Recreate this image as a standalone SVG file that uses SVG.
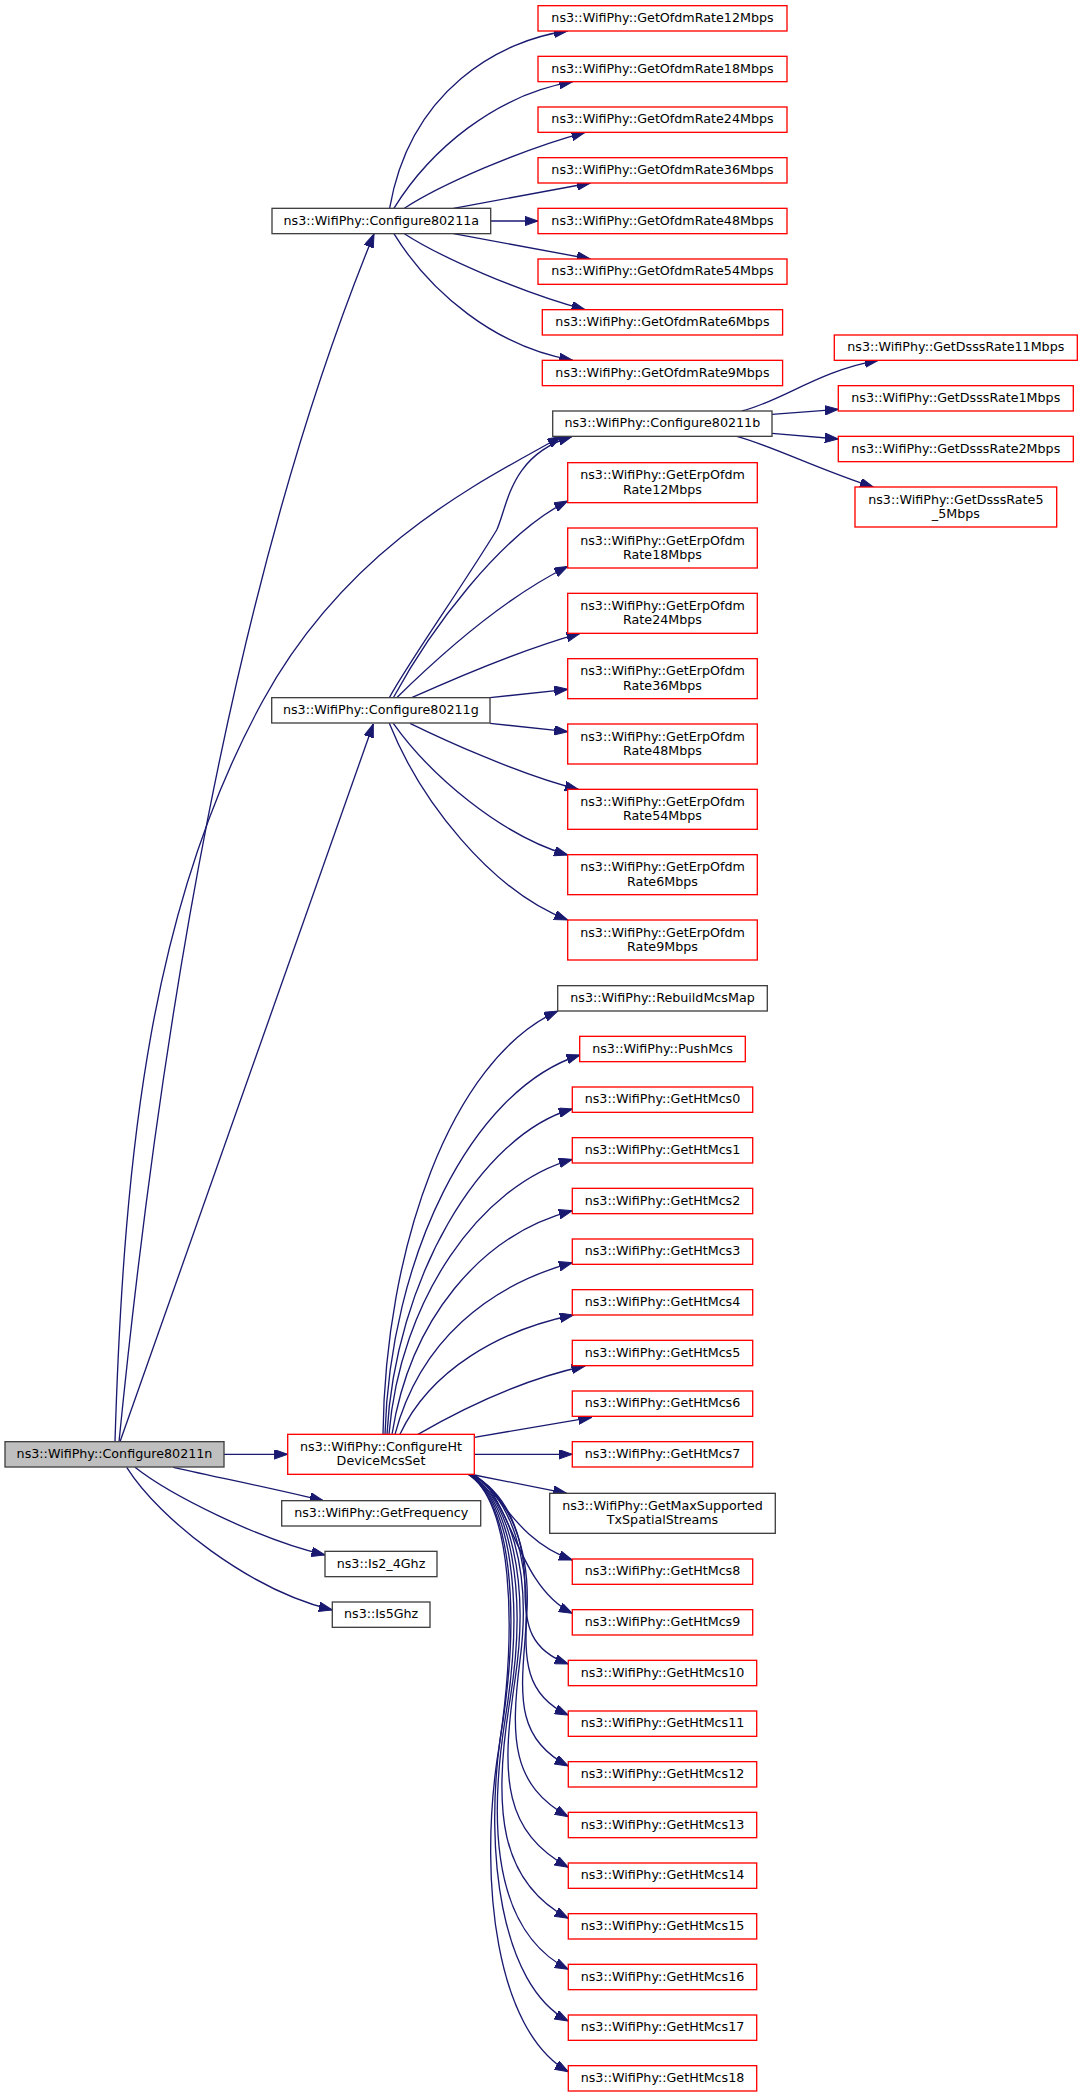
<svg xmlns="http://www.w3.org/2000/svg" width="1083" height="2097" viewBox="0 0 1083 2097">
<style>
rect{fill:#ffffff;stroke-width:1.33}
.r{stroke:#ff0000}
.k{stroke:#404040}
.root{fill:#bfbfbf}
text{font-family:"DejaVu Sans","Liberation Sans",sans-serif;font-size:12.7px;text-anchor:middle;fill:#000000}
#edges path{fill:none;stroke:#191970;stroke-width:1.33;marker-end:url(#ah)}
</style>
<defs>
<marker id="ah" markerUnits="userSpaceOnUse" markerWidth="14" markerHeight="10" refX="13.5" refY="4.8" orient="auto">
<path d="M0,0 L13.5,4.8 L0,9.6 z" fill="#191970" stroke="#191970" stroke-width="1"/>
</marker>
</defs>
<rect x="0" y="0" width="1083" height="2097" style="fill:#ffffff;stroke:none"/>
<g id="edges">
<path d="M119,1441.7 C159,1041.7 230.5,584 374,234"/>
<path d="M115,1441.7 C124,1141.7 153.3,900 263.3,700 C351.3,540 491.8,476.5 561,436.5"/>
<path d="M120,1441.7 L373.3,724"/>
<path d="M224,1454.3 L287.7,1454.3"/>
<path d="M173.3,1467.3 C230,1480 280,1490 323.3,1500.7"/>
<path d="M135,1467.3 C170,1495 260,1540 325,1555"/>
<path d="M126.7,1467.3 C160,1520 250,1590 332.3,1610"/>
<path d="M389.6,208.3 C410,90 500,40 567.5,31"/>
<path d="M393.9,208.3 C430,150 495,95 572.8,81.7"/>
<path d="M404.4,208.3 C440,185 520,150 585,132.3"/>
<path d="M453.5,208.3 L590.4,183"/>
<path d="M490.7,221 L538,221"/>
<path d="M453.5,233.7 L590.4,259"/>
<path d="M404.4,233.7 C440,257 520,292 585,309.7"/>
<path d="M393.9,233.7 C430,292 495,347 572.8,360.3"/>
<path d="M741.7,411 C780,402 820,370 878.3,360.3"/>
<path d="M772,414.3 L838.3,409.3"/>
<path d="M772,433.3 L838.3,439"/>
<path d="M736.7,436.3 C770,445 820,470 873.3,487"/>
<path d="M389.3,697.7 C410,660 460,590 496.7,530 C508,505 510,455 572,436.5"/>
<path d="M393.3,697.7 C430,630 500,535 567.7,501"/>
<path d="M396.7,697.7 C430,665 500,600 567.7,566.5"/>
<path d="M411.7,697.7 C440,685 520,650 580,633.3"/>
<path d="M490,697.7 L567.7,689.3"/>
<path d="M490,723.3 L567.7,731.7"/>
<path d="M410,723.3 C440,738 520,775 578.3,789.3"/>
<path d="M393.3,723.3 C430,775 500,835 567.7,855"/>
<path d="M389.3,723.3 C420,800 490,890 567.7,920"/>
<path d="M383,1434.3 C385,1250 450,1060 557.7,1011"/>
<path d="M385,1434.3 C390,1260 470,1090 580,1055"/>
<path d="M387,1434.3 C395,1280 480,1135 572.3,1109"/>
<path d="M389,1434.3 C400,1300 480,1185 572.3,1159.3"/>
<path d="M392,1434.3 C410,1320 480,1235 572.3,1210.7"/>
<path d="M395,1434.3 C420,1340 490,1285 572.3,1262.7"/>
<path d="M400,1434.3 C430,1370 500,1330 573.3,1315"/>
<path d="M418,1434.3 C460,1410 520,1380 585,1366"/>
<path d="M474.3,1437.3 L591.7,1417.3"/>
<path d="M474.3,1454.3 L572.3,1454.3"/>
<path d="M474.3,1475 L566.7,1493.3"/>
<path d="M473,1474.3 C500,1490 515,1540 572.3,1560"/>
<path d="M472,1474.3 C510,1490 515,1585 572.3,1613.3"/>
<path d="M472,1474.3 C510,1495 525,1540 525,1590 C525,1625 530,1650 568.3,1664"/>
<path d="M471,1474.3 C510,1495 530,1550 527,1610 C524,1660 525,1695 568.3,1715"/>
<path d="M471,1474.3 C510,1495 532,1560 525,1640 C520,1700 518,1740 568.3,1766"/>
<path d="M470,1474.3 C510,1500 532,1570 520,1660 C510,1740 512,1785 568.3,1816.7"/>
<path d="M470,1474.3 C510,1500 530,1580 515,1680 C500,1780 505,1832 568.3,1867.3"/>
<path d="M469,1474.3 C510,1500 528,1590 510,1700 C492,1810 500,1882 568.3,1918.3"/>
<path d="M469,1474.3 C510,1500 525,1600 505,1720 C488,1830 495,1932 568.3,1969.3"/>
<path d="M468,1474.3 C510,1500 522,1610 500,1740 C485,1850 500,1985 568.3,2021"/>
<path d="M468,1474.3 C510,1500 520,1620 497,1760 C480,1880 495,2030 568.3,2071.7"/>
</g>
<g id="node_configure80211n"><rect class="k root" x="5" y="1441.67" width="219" height="25.33"/><text x="114.5" y="1458">ns3::WifiPhy::Configure80211n</text></g>
<g id="node_configure80211a"><rect class="k" x="272" y="208.33" width="218.7" height="25.33"/><text x="381.35" y="224.7">ns3::WifiPhy::Configure80211a</text></g>
<g id="node_configure80211g"><rect class="k" x="271.7" y="697.67" width="218.3" height="25.33"/><text x="380.85" y="714">ns3::WifiPhy::Configure80211g</text></g>
<g id="node_configureht"><rect class="r" x="287.7" y="1434.33" width="186.6" height="40"/><text x="381" y="1450.8">ns3::WifiPhy::ConfigureHt</text><text x="381" y="1465.2">DeviceMcsSet</text></g>
<g id="node_getfrequency"><rect class="k" x="281.7" y="1500.67" width="199" height="25.33"/><text x="381.2" y="1517">ns3::WifiPhy::GetFrequency</text></g>
<g id="node_is2_4ghz"><rect class="k" x="325" y="1551.33" width="112" height="25.33"/><text x="381" y="1567.7">ns3::Is2_4Ghz</text></g>
<g id="node_is5ghz"><rect class="k" x="332.3" y="1602" width="97.7" height="25.33"/><text x="381.15" y="1618.4">ns3::Is5Ghz</text></g>
<g id="node_ofdm12"><rect class="r" x="538" y="5.67" width="249" height="25.33"/><text x="662.5" y="22">ns3::WifiPhy::GetOfdmRate12Mbps</text></g>
<g id="node_ofdm18"><rect class="r" x="538" y="56.33" width="249" height="25.33"/><text x="662.5" y="72.7">ns3::WifiPhy::GetOfdmRate18Mbps</text></g>
<g id="node_ofdm24"><rect class="r" x="538" y="107" width="249" height="25.33"/><text x="662.5" y="123.4">ns3::WifiPhy::GetOfdmRate24Mbps</text></g>
<g id="node_ofdm36"><rect class="r" x="538" y="157.67" width="249" height="25.33"/><text x="662.5" y="174">ns3::WifiPhy::GetOfdmRate36Mbps</text></g>
<g id="node_ofdm48"><rect class="r" x="538" y="208.33" width="249" height="25.33"/><text x="662.5" y="224.7">ns3::WifiPhy::GetOfdmRate48Mbps</text></g>
<g id="node_ofdm54"><rect class="r" x="538" y="259" width="249" height="25.33"/><text x="662.5" y="275.4">ns3::WifiPhy::GetOfdmRate54Mbps</text></g>
<g id="node_ofdm6"><rect class="r" x="542.3" y="309.67" width="240.3" height="25.33"/><text x="662.45" y="326">ns3::WifiPhy::GetOfdmRate6Mbps</text></g>
<g id="node_ofdm9"><rect class="r" x="542.3" y="360.33" width="240.3" height="25.33"/><text x="662.45" y="376.7">ns3::WifiPhy::GetOfdmRate9Mbps</text></g>
<g id="node_configure80211b"><rect class="k" x="552.7" y="411" width="219.3" height="25.33"/><text x="662.35" y="427.4">ns3::WifiPhy::Configure80211b</text></g>
<g id="node_dsss11"><rect class="r" x="834.3" y="335" width="243" height="25.33"/><text x="955.8" y="351.4">ns3::WifiPhy::GetDsssRate11Mbps</text></g>
<g id="node_dsss1"><rect class="r" x="838.3" y="385.67" width="235" height="25.33"/><text x="955.8" y="402">ns3::WifiPhy::GetDsssRate1Mbps</text></g>
<g id="node_dsss2"><rect class="r" x="838.3" y="436.33" width="235" height="25.33"/><text x="955.8" y="452.7">ns3::WifiPhy::GetDsssRate2Mbps</text></g>
<g id="node_dsss5_5"><rect class="r" x="855" y="487" width="201.7" height="40"/><text x="955.85" y="503.5">ns3::WifiPhy::GetDsssRate5</text><text x="955.85" y="517.9">_5Mbps</text></g>
<g id="node_erp12"><rect class="r" x="567.7" y="462.67" width="189.6" height="40"/><text x="662.5" y="479.2">ns3::WifiPhy::GetErpOfdm</text><text x="662.5" y="493.6">Rate12Mbps</text></g>
<g id="node_erp18"><rect class="r" x="567.7" y="528" width="189.6" height="40"/><text x="662.5" y="544.5">ns3::WifiPhy::GetErpOfdm</text><text x="662.5" y="558.9">Rate18Mbps</text></g>
<g id="node_erp24"><rect class="r" x="567.7" y="593.33" width="189.6" height="40"/><text x="662.5" y="609.8">ns3::WifiPhy::GetErpOfdm</text><text x="662.5" y="624.2">Rate24Mbps</text></g>
<g id="node_erp36"><rect class="r" x="567.7" y="658.67" width="189.6" height="40"/><text x="662.5" y="675.2">ns3::WifiPhy::GetErpOfdm</text><text x="662.5" y="689.6">Rate36Mbps</text></g>
<g id="node_erp48"><rect class="r" x="567.7" y="724" width="189.6" height="40"/><text x="662.5" y="740.5">ns3::WifiPhy::GetErpOfdm</text><text x="662.5" y="754.9">Rate48Mbps</text></g>
<g id="node_erp54"><rect class="r" x="567.7" y="789.33" width="189.6" height="40"/><text x="662.5" y="805.8">ns3::WifiPhy::GetErpOfdm</text><text x="662.5" y="820.2">Rate54Mbps</text></g>
<g id="node_erp6"><rect class="r" x="567.7" y="854.67" width="189.6" height="40"/><text x="662.5" y="871.2">ns3::WifiPhy::GetErpOfdm</text><text x="662.5" y="885.6">Rate6Mbps</text></g>
<g id="node_erp9"><rect class="r" x="567.7" y="920" width="189.6" height="40"/><text x="662.5" y="936.5">ns3::WifiPhy::GetErpOfdm</text><text x="662.5" y="950.9">Rate9Mbps</text></g>
<g id="node_rebuildmcsmap"><rect class="k" x="557.7" y="985.67" width="209.6" height="25.33"/><text x="662.5" y="1002">ns3::WifiPhy::RebuildMcsMap</text></g>
<g id="node_pushmcs"><rect class="r" x="579.7" y="1036.33" width="165.6" height="25.33"/><text x="662.5" y="1052.7">ns3::WifiPhy::PushMcs</text></g>
<g id="node_htmcs0"><rect class="r" x="572.3" y="1087" width="180.4" height="25.33"/><text x="662.5" y="1103.4">ns3::WifiPhy::GetHtMcs0</text></g>
<g id="node_htmcs1"><rect class="r" x="572.3" y="1137.67" width="180.4" height="25.33"/><text x="662.5" y="1154">ns3::WifiPhy::GetHtMcs1</text></g>
<g id="node_htmcs2"><rect class="r" x="572.3" y="1188.33" width="180.4" height="25.33"/><text x="662.5" y="1204.7">ns3::WifiPhy::GetHtMcs2</text></g>
<g id="node_htmcs3"><rect class="r" x="572.3" y="1239" width="180.4" height="25.33"/><text x="662.5" y="1255.4">ns3::WifiPhy::GetHtMcs3</text></g>
<g id="node_htmcs4"><rect class="r" x="572.3" y="1289.67" width="180.4" height="25.33"/><text x="662.5" y="1306">ns3::WifiPhy::GetHtMcs4</text></g>
<g id="node_htmcs5"><rect class="r" x="572.3" y="1340.33" width="180.4" height="25.33"/><text x="662.5" y="1356.7">ns3::WifiPhy::GetHtMcs5</text></g>
<g id="node_htmcs6"><rect class="r" x="572.3" y="1391" width="180.4" height="25.33"/><text x="662.5" y="1407.4">ns3::WifiPhy::GetHtMcs6</text></g>
<g id="node_htmcs7"><rect class="r" x="572.3" y="1441.67" width="180.4" height="25.33"/><text x="662.5" y="1458">ns3::WifiPhy::GetHtMcs7</text></g>
<g id="node_getmaxsupported"><rect class="k" x="549.7" y="1493.33" width="225.6" height="40"/><text x="662.5" y="1509.8">ns3::WifiPhy::GetMaxSupported</text><text x="662.5" y="1524.2">TxSpatialStreams</text></g>
<g id="node_htmcs8"><rect class="r" x="572.3" y="1559" width="180.4" height="25.33"/><text x="662.5" y="1575.4">ns3::WifiPhy::GetHtMcs8</text></g>
<g id="node_htmcs9"><rect class="r" x="572.3" y="1609.67" width="180.4" height="25.33"/><text x="662.5" y="1626">ns3::WifiPhy::GetHtMcs9</text></g>
<g id="node_htmcs10"><rect class="r" x="568.3" y="1660.33" width="188.4" height="25.33"/><text x="662.5" y="1676.7">ns3::WifiPhy::GetHtMcs10</text></g>
<g id="node_htmcs11"><rect class="r" x="568.3" y="1711" width="188.4" height="25.33"/><text x="662.5" y="1727.4">ns3::WifiPhy::GetHtMcs11</text></g>
<g id="node_htmcs12"><rect class="r" x="568.3" y="1761.67" width="188.4" height="25.33"/><text x="662.5" y="1778">ns3::WifiPhy::GetHtMcs12</text></g>
<g id="node_htmcs13"><rect class="r" x="568.3" y="1812.33" width="188.4" height="25.33"/><text x="662.5" y="1828.7">ns3::WifiPhy::GetHtMcs13</text></g>
<g id="node_htmcs14"><rect class="r" x="568.3" y="1863" width="188.4" height="25.33"/><text x="662.5" y="1879.4">ns3::WifiPhy::GetHtMcs14</text></g>
<g id="node_htmcs15"><rect class="r" x="568.3" y="1913.67" width="188.4" height="25.33"/><text x="662.5" y="1930">ns3::WifiPhy::GetHtMcs15</text></g>
<g id="node_htmcs16"><rect class="r" x="568.3" y="1964.33" width="188.4" height="25.33"/><text x="662.5" y="1980.7">ns3::WifiPhy::GetHtMcs16</text></g>
<g id="node_htmcs17"><rect class="r" x="568.3" y="2015" width="188.4" height="25.33"/><text x="662.5" y="2031.4">ns3::WifiPhy::GetHtMcs17</text></g>
<g id="node_htmcs18"><rect class="r" x="568.3" y="2065.67" width="188.4" height="25.33"/><text x="662.5" y="2082">ns3::WifiPhy::GetHtMcs18</text></g>
</svg>
